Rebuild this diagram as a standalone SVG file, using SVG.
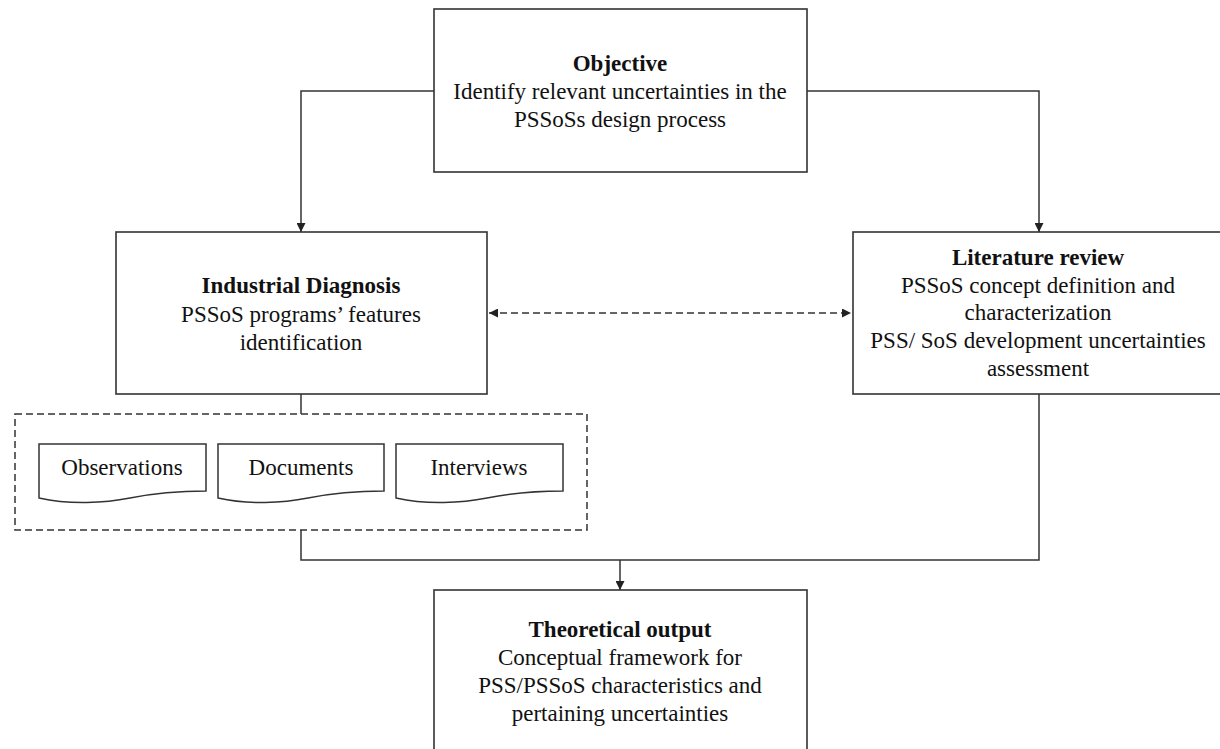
<svg xmlns="http://www.w3.org/2000/svg" width="1220" height="749" viewBox="0 0 1220 749">
<defs>
<style>
.box{fill:#fff;stroke:#333;stroke-width:1.6}
.doc{fill:#fff;stroke:#333;stroke-width:1.5}
.dash{fill:none;stroke:#333;stroke-width:1.5;stroke-dasharray:7,4}
.conn{fill:none;stroke:#333;stroke-width:1.5}
text{font-family:"Liberation Serif","Times New Roman",serif;font-size:23px;fill:#111;text-anchor:middle}
.b{font-weight:bold}
</style>
<marker id="ah" viewBox="0 0 10 10" refX="10" refY="5" markerWidth="9" markerHeight="9" markerUnits="userSpaceOnUse" orient="auto-start-reverse">
<path d="M0,0 L10,5 L0,10 Z" fill="#222"/>
</marker>
</defs>
<rect width="1220" height="749" fill="#fff"/>

<g id="connectors">
<polyline class="conn" points="434,91 301,91 301,232" marker-end="url(#ah)"/>
<polyline class="conn" points="807,91 1039,91 1039,232" marker-end="url(#ah)"/>
<line class="conn" x1="489" y1="313" x2="851" y2="313" stroke-dasharray="7,4" marker-start="url(#ah)" marker-end="url(#ah)"/>
<line class="conn" x1="301" y1="394" x2="301" y2="414"/>
<polyline class="conn" points="301,530 301,560 1039,560 1039,394"/>
<line class="conn" x1="620" y1="560" x2="620" y2="590" marker-end="url(#ah)"/>
</g>

<g id="objective">
<rect class="box" x="434" y="9" width="373" height="163"/>
<text class="b" x="620" y="71">Objective</text>
<text x="620" y="99">Identify relevant uncertainties in the</text>
<text x="620" y="127">PSSoSs design process</text>
</g>

<g id="industrial-diagnosis">
<rect class="box" x="116" y="232" width="371" height="162"/>
<text class="b" x="301" y="293">Industrial Diagnosis</text>
<text x="301" y="322">PSSoS programs’ features</text>
<text x="301" y="350">identification</text>
</g>

<g id="literature-review">
<rect class="box" x="853" y="232" width="380" height="162"/>
<text class="b" x="1038" y="265">Literature review</text>
<text x="1038" y="293">PSSoS concept definition and</text>
<text x="1038" y="320">characterization</text>
<text x="1038" y="348">PSS/ SoS development uncertainties</text>
<text x="1038" y="376">assessment</text>
</g>

<g id="sources">
<rect class="dash" x="15" y="414" width="572" height="116"/>
</g>

<g id="observations">
<path class="doc" d="M39,444 H206 V491 C175,491 150,494 130,498 C105,503 70,505 39,498 Z"/>
<text x="122" y="475">Observations</text>
</g>
<g id="documents">
<path class="doc" d="M218,444 H384 V491 C353,491 328,494 308,498 C283,503 249,505 218,498 Z"/>
<text x="301" y="475">Documents</text>
</g>
<g id="interviews">
<path class="doc" d="M396,444 H563 V491 C532,491 507,494 487,498 C462,503 427,505 396,498 Z"/>
<text x="479" y="475">Interviews</text>
</g>

<g id="theoretical-output">
<rect class="box" x="434" y="590" width="373" height="175"/>
<text class="b" x="620" y="637">Theoretical output</text>
<text x="620" y="665">Conceptual framework for</text>
<text x="620" y="693">PSS/PSSoS characteristics and</text>
<text x="620" y="721">pertaining uncertainties</text>
</g>
</svg>
